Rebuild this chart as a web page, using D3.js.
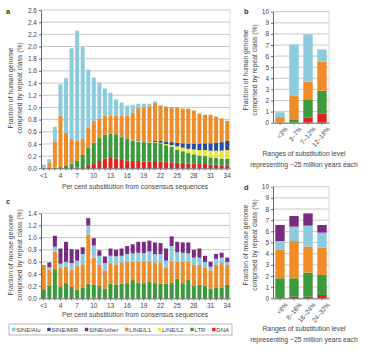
<!DOCTYPE html>
<html>
<head>
<meta charset="utf-8">
<script src="https://cdn.jsdelivr.net/npm/d3@7"></script>
<style>
  body { margin: 0; background: #fff; }
  svg { font-family: "Liberation Sans", Arial, sans-serif; }
  .domain { stroke: #666; }
  .tick line { stroke: #666; }
  .tick text { fill: #444; font-size: 6.5px; }
</style>
</head>
<body>
<div id="chart"></div>
<script>
// substitution bins (per cent) for panels a and c
var bins = ["<1","2","3","4","5","6","7","8","9","10","11","12","13","14","15","16","17",
            "18","19","20","21","22","23","24","25","26","27","28","29","30","31","32","33","34"];

// panel a - human, fraction of genome (%) per repeat class
var humanDNA = [0,0,0,0,0,0,0.01,0.02,0.05,0.07,0.12,0.16,0.17,0.16,0.15,0.13,0.12,
                0.12,0.11,0.11,0.12,0.11,0.10,0.10,0.09,0.09,0.08,0.08,0.07,0.07,0.06,0.06,0.05,0.05];
var humanLTR = [0,0,0.01,0.02,0.05,0.08,0.12,0.20,0.29,0.35,0.38,0.39,0.40,0.40,0.36,0.35,0.33,
                0.32,0.32,0.31,0.30,0.30,0.28,0.25,0.22,0.19,0.17,0.15,0.14,0.13,0.12,0.11,0.11,0.11];
var humanL2  = [0,0,0,0,0,0,0,0,0,0,0,0,0,0,0,0,0.01,
                0.01,0.01,0.01,0.01,0.01,0.02,0.03,0.05,0.06,0.07,0.08,0.09,0.10,0.11,0.12,0.13,0.14];
var humanMIR = [0,0,0,0,0,0,0,0,0,0,0,0,0,0,0.01,0.01,0.01,
                0.01,0.01,0.01,0.02,0.03,0.04,0.05,0.06,0.07,0.08,0.09,0.10,0.11,0.12,0.13,0.14,0.15];
var humanL1  = [0.01,0.10,0.43,0.84,0.53,0.40,0.33,0.26,0.32,0.36,0.32,0.32,0.30,0.31,0.34,0.37,0.44,
                0.53,0.55,0.58,0.63,0.58,0.57,0.57,0.58,0.57,0.58,0.55,0.50,0.47,0.47,0.43,0.39,0.33];
var humanAlu = [0.05,0.05,0.24,0.52,0.90,1.49,1.80,1.51,0.96,0.71,0.59,0.44,0.37,0.26,0.22,0.17,0.13,
                0.07,0.06,0.04,0.02,0.01,0.01,0,0,0,0,0,0,0,0,0,0,0];

// panel c - mouse
var mouseDNA = [0,0,0,0,0,0,0,0,0,0.01,0,0,0,0,0,0,0,
                0,0,0,0,0,0,0,0,0,0,0,0,0,0,0,0,0];
var mouseLTR = [0.15,0.21,0.48,0.19,0.25,0.19,0.14,0.17,0.24,0.21,0.20,0.16,0.24,0.22,0.24,0.25,0.30,
                0.26,0.25,0.27,0.25,0.24,0.24,0.25,0.32,0.25,0.30,0.20,0.22,0.20,0.16,0.17,0.18,0.22];
var mouseL1  = [0.40,0.26,0.29,0.31,0.27,0.28,0.39,0.39,0.81,0.45,0.35,0.30,0.34,0.34,0.35,0.35,0.30,
                0.34,0.35,0.33,0.34,0.35,0.26,0.35,0.28,0.35,0.30,0.35,0.33,0.30,0.30,0.38,0.40,0.33];
var mouseB1  = [0,0.04,0.08,0.07,0.08,0.11,0.09,0.17,0.15,0.20,0.15,0.12,0.12,0.13,0.11,0.13,0.14,
                0.15,0.14,0.17,0.14,0.14,0.12,0.26,0.16,0.15,0.14,0.12,0.12,0.10,0.06,0.10,0.09,0.05];
var mouseOther = [0,0.08,0.18,0.25,0.33,0.23,0.18,0.11,0.12,0.12,0.09,0.11,0.12,0.11,0.12,0.13,0.15,
                0.18,0.19,0.18,0.19,0.18,0.20,0.16,0.17,0.17,0.18,0.13,0.15,0.10,0.08,0.08,0.08,0.07];

// panel b - human, ~25 Myr ranges
var bRanges = ["<3%","3\u20137%","7\u201312%","12\u201318%"];
var bDNA = [0,0,0.48,0.84];
var bLTR = [0,0.3,1.56,2.04];
var bL1  = [0.5,2.1,1.65,2.62];
var bAlu = [0.45,4.65,4.27,1.1];

// panel d - mouse, ~25 Myr ranges
var dRanges = ["<8%","8\u201316%","16\u201324%","24\u201332%"];
var dDNA = [0,0.15,0.15,0.3];
var dLTR = [1.79,1.64,2.15,1.74];
var dMIR = [0,0,0,0.05];
var dL1  = [2.54,3.34,2.33,2.45];
var dB1  = [0.8,1.29,1.88,1.34];
var dOther = [1.44,0.95,1.1,0.69];

var legendKeys = ["SINE/Alu","SINE/MIR","SINE/other","LINE/L1","LINE/L2","LTR","DNA"];
var stackOrder = ["DNA","LTR","LINE/L2","SINE/MIR","LINE/L1","SINE/Alu","SINE/other"];
var colors = {
  "SINE/Alu": "#8ccbde", "SINE/MIR": "#1f4f9e", "SINE/other": "#7b2a82",
  "LINE/L1": "#f08c28", "LINE/L2": "#e8e638", "LTR": "#3a9a3c", "DNA": "#e3221f"
};

var svg = d3.select("#chart").append("svg").attr("width", 367).attr("height", 351);

function panel(cfg) {
  var g = svg.append("g");
  var x = d3.scaleBand().domain(cfg.cats).range(cfg.xr).paddingInner(cfg.pad).paddingOuter(cfg.pad / 2);
  var y = d3.scaleLinear().domain([0, cfg.max]).range(cfg.yr);

  // horizontal grid lines
  g.selectAll("line.grid").data(cfg.ticks.slice(1)).join("line")
    .attr("class", "grid")
    .attr("x1", cfg.xr[0]).attr("x2", cfg.xr[1])
    .attr("y1", function(d) { return y(d); }).attr("y2", function(d) { return y(d); })
    .attr("stroke", "#b0b0b0").attr("stroke-width", 0.7);
  // right border
  g.append("line").attr("x1", cfg.xr[1]).attr("x2", cfg.xr[1])
    .attr("y1", cfg.yr[1]).attr("y2", cfg.yr[0]).attr("stroke", "#c8c8c8").attr("stroke-width", 0.7);

  var rows = cfg.cats.map(function(c, i) {
    var r = {cat: c};
    stackOrder.forEach(function(k) { r[k] = cfg.series[k] ? cfg.series[k][i] : 0; });
    return r;
  });
  var layers = d3.stack().keys(stackOrder)(rows);

  g.selectAll("g.layer").data(layers).join("g")
    .attr("class", "layer")
    .attr("fill", function(d) { return colors[d.key]; })
    .selectAll("rect").data(function(d) { return d; }).join("rect")
    .attr("x", function(d) { return x(d.data.cat); })
    .attr("width", x.bandwidth())
    .attr("y", function(d) { return y(d[1]); })
    .attr("height", function(d) { return y(d[0]) - y(d[1]); });

  // y axis
  g.append("g").attr("transform", "translate(" + cfg.xr[0] + ",0)")
    .call(d3.axisLeft(y).tickValues(cfg.ticks).tickFormat(d3.format(cfg.fmt)).tickSize(2).tickPadding(2).tickSizeOuter(0));

  // x axis
  var xa = g.append("g").attr("transform", "translate(0," + cfg.yr[0] + ")")
    .call(d3.axisBottom(x).tickSize(2).tickPadding(3).tickSizeOuter(0)
      .tickFormat(function(d, i) { return cfg.every ? (i % cfg.every === 0 ? d : "") : d; }));
  if (cfg.rotate) {
    xa.selectAll("text")
      .attr("text-anchor", "end")
      .attr("dy", "0.3em")
      .attr("transform", "translate(3,2) rotate(-50)");
  }

  // panel letter
  svg.append("text").attr("x", cfg.letter[0]).attr("y", cfg.letter[1])
    .attr("font-size", "7.5px").attr("font-weight", "bold").attr("fill", "#333").text(cfg.name);

  // y title, two lines
  cfg.ytitle.forEach(function(t, i) {
    svg.append("text")
      .attr("transform", "translate(" + (cfg.ytx + i * 8.5) + "," + cfg.yty + ") rotate(-90)")
      .attr("text-anchor", "middle").attr("font-size", "6.8px").attr("fill", "#444").text(t);
  });

  // x title
  cfg.xtitle.forEach(function(t, i) {
    svg.append("text").attr("x", cfg.xtx).attr("y", cfg.xty + i * 10.5)
      .attr("text-anchor", "middle").attr("font-size", "6.8px").attr("fill", "#444").text(t);
  });
}

var rangeTitle = ["Ranges of substitution level", "representing ~25 million years each"];

panel({
  name: "a", letter: [6, 14], cats: bins, xr: [41, 230], yr: [168.3, 10], pad: 0.28, max: 2.6,
  ticks: d3.range(0, 2.61, 0.2), fmt: ".1f", every: 3,
  series: {"DNA": humanDNA, "LTR": humanLTR, "LINE/L2": humanL2, "SINE/MIR": humanMIR, "LINE/L1": humanL1, "SINE/Alu": humanAlu},
  ytitle: ["Fraction of human genome", "comprised by repeat class (%)"], ytx: 13, yty: 88,
  xtitle: ["Per cent substitution from consensus sequences"], xtx: 135, xty: 189
});

panel({
  name: "c", letter: [6, 204], cats: bins, xr: [41, 230], yr: [298.3, 213.3], pad: 0.28, max: 1.4,
  ticks: d3.range(0, 1.41, 0.2), fmt: ".1f", every: 3,
  series: {"DNA": mouseDNA, "LTR": mouseLTR, "LINE/L1": mouseL1, "SINE/Alu": mouseB1, "SINE/other": mouseOther},
  ytitle: ["Fraction of mouse genome", "comprised by repeat class (%)"], ytx: 13, yty: 255,
  xtitle: ["Per cent substitution from consensus sequences"], xtx: 135, xty: 317
});

panel({
  name: "b", letter: [244, 14], cats: bRanges, xr: [273, 329], yr: [122.7, 11.7], pad: 0.33, max: 10,
  ticks: d3.range(0, 11, 1), fmt: "d",
  series: {"DNA": bDNA, "LTR": bLTR, "LINE/L1": bL1, "SINE/Alu": bAlu},
  ytitle: ["Fraction of human genome", "comprised by repeat class (%)"], ytx: 248, yty: 70,
  xtitle: rangeTitle, xtx: 304, xty: 156, rotate: true
});

panel({
  name: "d", letter: [244, 190], cats: dRanges, xr: [273, 329], yr: [298.3, 186.7], pad: 0.33, max: 10,
  ticks: d3.range(0, 11, 1), fmt: "d",
  series: {"DNA": dDNA, "LTR": dLTR, "SINE/MIR": dMIR, "LINE/L1": dL1, "SINE/Alu": dB1, "SINE/other": dOther},
  ytitle: ["Fraction of mouse genome", "comprised by repeat class (%)"], ytx: 248, yty: 245,
  xtitle: rangeTitle, xtx: 304, xty: 331, rotate: true
});

// legend: items laid out in a row, spread to fill the box
var lg = svg.append("g");
lg.append("rect").attr("x", 9).attr("y", 324).attr("width", 223).attr("height", 11)
  .attr("fill", "none").attr("stroke", "#888").attr("stroke-width", 0.6);
var items = legendKeys.map(function(k) {
  var it = lg.append("g");
  it.append("rect").attr("x", 0).attr("y", -1.7).attr("width", 3.4).attr("height", 3.4).attr("fill", colors[k]);
  var t = it.append("text").attr("x", 4.2).attr("y", 2.2).attr("font-size", "6px").attr("fill", "#444").text(k);
  return {g: it, w: 4.2 + t.node().getComputedTextLength()};
});
var total = d3.sum(items, function(d) { return d.w; });
var gap = (229 - 12 - total) / (items.length - 1);
var cx = 12;
items.forEach(function(it) {
  it.g.attr("transform", "translate(" + cx + ",329.5)");
  cx += it.w + gap;
});
</script>
</body>
</html>
